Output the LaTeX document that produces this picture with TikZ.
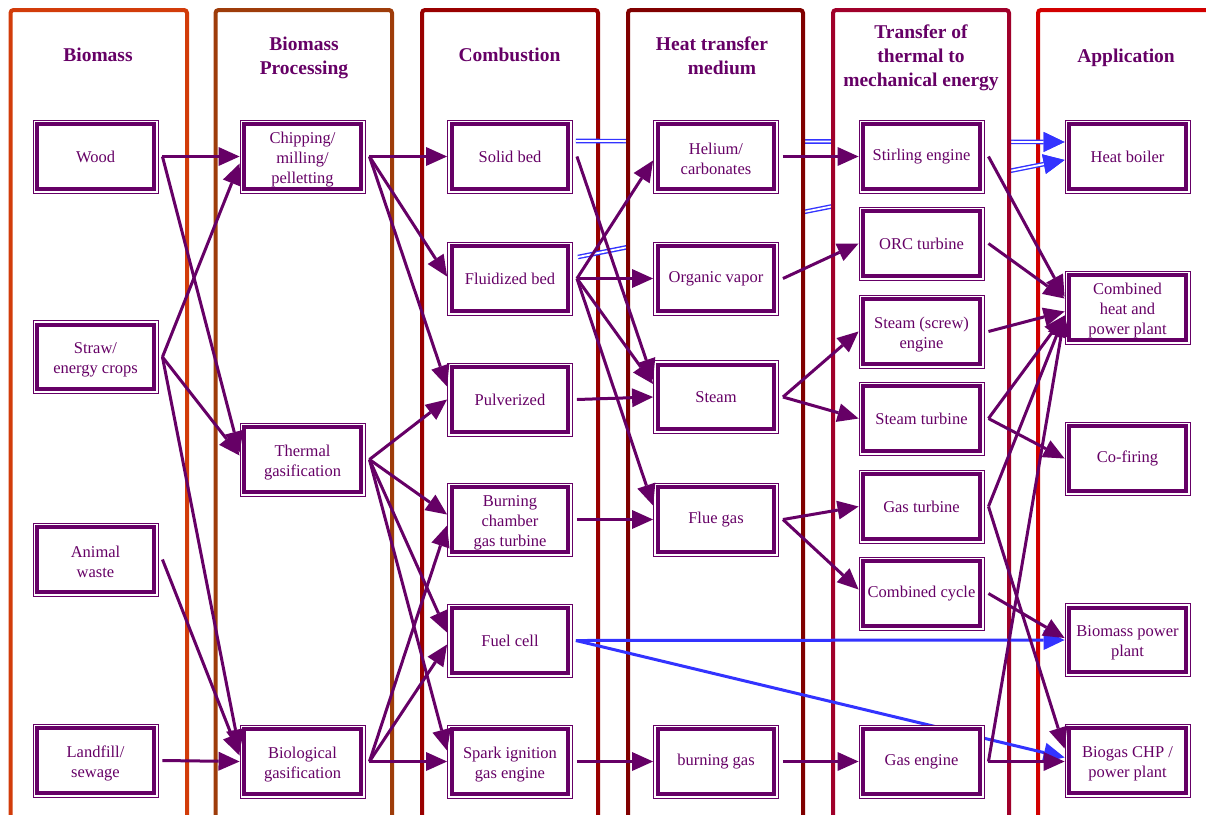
\documentclass[tikz,border=0pt]{standalone}
\usepackage{fontspec}
\setmainfont{Liberation Serif}
\usetikzlibrary{arrows.meta,calc}
\definecolor{pur}{HTML}{660066}
\definecolor{bl}{HTML}{3333FF}
\definecolor{cA}{HTML}{D23C0A}
\definecolor{cB}{HTML}{9E3C0A}
\definecolor{cC}{HTML}{990000}
\definecolor{cD}{HTML}{800000}
\definecolor{cE}{HTML}{A0002A}
\definecolor{cF}{HTML}{D20000}
\pgfdeclarelayer{lA}\pgfdeclarelayer{lB}\pgfdeclarelayer{lC}\pgfdeclarelayer{lD}
\pgfsetlayers{lA,lB,lC,lD,main}
\tikzset{
 box/.style={draw=pur, line width=0.9pt, fill=white, minimum width=125pt, minimum height=73pt, inner sep=1pt, align=center, text=pur, font=\fontsize{16.5}{20}\selectfont},
 head/.style={align=center, text=pur, font=\fontsize{19.5}{24}\selectfont\bfseries},
 colbox/.style={line width=4pt, rounded corners=3pt, fill=white},
 arr/.style={draw=pur, line width=3pt, -{Triangle[length=21pt,width=19pt,line width=0pt]}},
 barr/.style={draw=bl, line width=3pt, -{Triangle[length=21pt,width=20pt,line width=0pt]}},
 dblA/.style={draw=bl, line width=4.6pt, -{Triangle[length=21pt,width=20pt,line width=0pt]}},
 dblB/.style={draw=white, line width=1.8pt, -{Triangle[length=21pt,width=20pt,line width=0pt,color=bl]}},
}
\newcommand\tp{\rule{0pt}{17pt}}
\newcommand\conn[3]{\draw[arr] ([xshift=4pt]#1.east) -- ([yshift=#3pt]#2.west);}
\begin{document}
\begin{tikzpicture}[x=1pt,y=-1pt]
\useasboundingbox (0,0) rectangle (1206,814);
\clip (0,0) rectangle (1206,814);

% nodes
\node[box] (wood) at (95.5,156.5) {Wood};
\node[box] (straw) at (95.5,357) {\tp Straw/\\energy crops};
\node[box] (animal) at (95.5,559.5) {\tp Animal\\waste};
\node[box] (land) at (95.5,760.5) {\tp Landfill/\\sewage};
\node[box] (chip) at (302.5,156.5) {\tp Chipping/\\milling/\\pelletting};
\node[box] (therm) at (302.5,459.5) {\tp Thermal\\gasification};
\node[box] (bio) at (302.5,761.5) {\tp Biological\\gasification};
\node[box] (solid) at (510,156.5) {Solid bed};
\node[box] (fluid) at (510,278.5) {Fluidized bed};
\node[box] (pulv) at (510,399.5) {Pulverized};
\node[box] (burn) at (510,519.5) {\tp Burning\\chamber\\gas turbine};
\node[box] (fuel) at (510,640.5) {Fuel cell};
\node[box] (spark) at (510,761.5) {\tp Spark ignition\\gas engine};
\node[box] (hel) at (716,156.5) {\tp Helium/\\carbonates};
\node[box] (org) at (716,278.5) {Organic vapor};
\node[box] (steam) at (716,397) {Steam};
\node[box] (flue) at (716,519.5) {Flue gas};
\node[box] (bgas) at (716,761.5) {burning gas};
\node[box] (stir) at (921.5,156.5) {Stirling engine};
\node[box] (orc) at (921.5,243.5) {ORC turbine};
\node[box] (screw) at (921.5,331.5) {\tp Steam (screw)\\engine};
\node[box] (sturb) at (921.5,418.5) {Steam turbine};
\node[box] (gturb) at (921.5,506.5) {Gas turbine};
\node[box] (comb) at (921.5,593.5) {Combined cycle};
\node[box] (geng) at (921.5,761.5) {Gas engine};
\node[box] (heat) at (1127.5,156.5) {Heat boiler};
\node[box] (chp) at (1127.5,307.5) {\tp Combined\\heat and\\power plant};
\node[box] (cof) at (1127.5,458.5) {Co-firing};
\node[box] (bpp) at (1127.5,640) {\tp Biomass power\\plant};
\node[box] (biogas) at (1127.5,760.5) {\tp Biogas CHP /\\power plant};

\foreach \n in {wood,straw,animal,land,chip,therm,bio,solid,fluid,pulv,burn,fuel,spark,hel,org,steam,flue,bgas,stir,orc,screw,sturb,gturb,comb,geng,heat,chp,cof,bpp,biogas}
  \draw[pur, line width=4pt] ([shift={(4.6pt,-4.6pt)}]\n.north west) rectangle ([shift={(-4.6pt,4.6pt)}]\n.south east);

% headers
\node[head] (h1) at (98,55) {Biomass};
\node[head] (h2) at (304,58) {Biomass\\Processing};
\node[head] (h3) at (509.5,55) {Combustion};
\node[head] (h4) at (712,56) {Heat transfer\\\hspace*{20pt}medium};
\node[head] (h5) at (921,58) {Transfer of\\thermal to\\mechanical energy};
\node[head] (h6) at (1126,58) {Application};

% columns
\begin{pgfonlayer}{lA}
\draw[colbox, draw=cA] (10.5,10) rectangle (187,840);
\draw[colbox, draw=cB] (215.5,10) rectangle (392,840);
\draw[colbox, draw=cC] (422,10) rectangle (598,840);
\draw[colbox, draw=cF] (1038,10) rectangle (1240,840);
\end{pgfonlayer}
\begin{pgfonlayer}{lC}
\draw[colbox, draw=cD] (628,10) rectangle (803,840);
\draw[colbox, draw=cE] (833,10) rectangle (1009,840);
\end{pgfonlayer}

% blue double connectors (hidden behind middle columns)
\begin{pgfonlayer}{lB}
\draw[dblA] ([shift={(3pt,15.5pt)}]solid.east) -- ([yshift=14.5pt]heat.west);
\draw[dblB] ([shift={(3pt,15.5pt)}]solid.east) -- ([yshift=14.5pt]heat.west);
\draw[dblA] ([shift={(5pt,21.5pt)}]fluid.east) -- ([yshift=-3.5pt]heat.west);
\draw[dblB] ([shift={(5pt,21.5pt)}]fluid.east) -- ([yshift=-3.5pt]heat.west);
\end{pgfonlayer}

% blue single connectors
\begin{pgfonlayer}{lD}
\draw[barr] ([xshift=3pt]fuel.east) -- (bpp.west);
\draw[barr] ([xshift=3pt]fuel.east) -- ([yshift=3pt]biogas.west);
\end{pgfonlayer}

% column 1 -> 2
\conn{wood}{chip}{0}
\conn{wood}{therm}{7}
\conn{straw}{chip}{-7}
\conn{straw}{therm}{4}
\conn{straw}{bio}{11}
\conn{animal}{bio}{6}
\draw[arr] ([xshift=4pt]land.east) -- (bio.west);
% column 2 -> 3
\conn{chip}{solid}{0}
\conn{chip}{fluid}{2}
\conn{chip}{pulv}{13}
\conn{therm}{pulv}{0}
\conn{therm}{burn}{5}
\conn{therm}{fuel}{8}
\conn{therm}{spark}{11}
\conn{bio}{burn}{-6}
\conn{bio}{fuel}{-4}
\conn{bio}{spark}{0}
% column 3 -> 4
\conn{solid}{steam}{17}
\conn{fluid}{hel}{-4}
\conn{fluid}{org}{0}
\conn{fluid}{steam}{13}
\conn{fluid}{flue}{14}
\conn{pulv}{steam}{0}
\conn{burn}{flue}{0}
\conn{spark}{bgas}{0}
% column 4 -> 5
\conn{hel}{stir}{0}
\conn{org}{orc}{0}
\conn{steam}{screw}{0}
\conn{steam}{sturb}{0}
\conn{flue}{gturb}{0}
\conn{flue}{comb}{4}
\conn{bgas}{geng}{0}
% column 5 -> 6
\conn{stir}{chp}{11}
\conn{orc}{chp}{9}
\conn{screw}{chp}{-4}
\conn{sturb}{chp}{-8}
\conn{sturb}{cof}{0}
\conn{gturb}{chp}{-8}
\conn{gturb}{biogas}{12}
\conn{comb}{bpp}{2}
\conn{geng}{chp}{-8}
\draw[arr] ([xshift=4pt]geng.east) -- (biogas.west |- geng.east);
\end{tikzpicture}
\end{document}
